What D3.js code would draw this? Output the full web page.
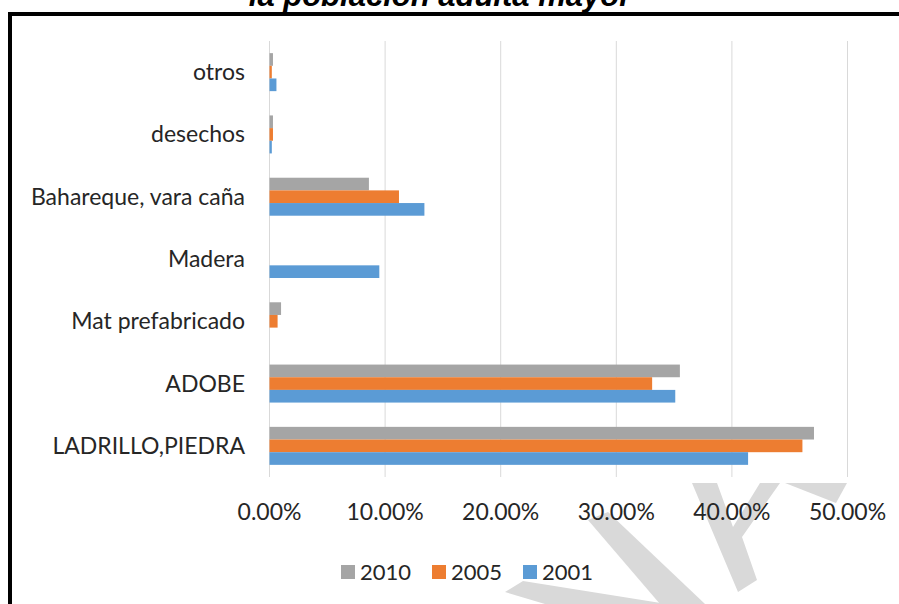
<!DOCTYPE html>
<html>
<head>
<meta charset="utf-8">
<script src="https://cdn.jsdelivr.net/npm/d3@7"></script>
<style>
body { margin: 0; background: #fff; }
text { font-family: Lato, "Open Sans", sans-serif; fill: #262626; }
</style>
</head>
<body>
<div class="mainviz"></div>
<script>
var categories = ["otros", "desechos", "Bahareque, vara caña", "Madera", "Mat prefabricado", "ADOBE", "LADRILLO,PIEDRA"];
var series = ["2010", "2005", "2001"];
var values2010 = [0.003, 0.003, 0.086, 0, 0.010, 0.355, 0.471];
var values2005 = [0.002, 0.003, 0.112, 0, 0.007, 0.331, 0.461];
var values2001 = [0.006, 0.002, 0.134, 0.095, 0, 0.351, 0.414];
var xTicks = [0, 0.1, 0.2, 0.3, 0.4, 0.5];
var colors = { "2010": "#a5a5a5", "2005": "#ed7d31", "2001": "#5b9bd5" };

var width = 899, height = 604;

var svg = d3.select(".mainviz").append("svg")
	.attr("width", width)
	.attr("height", height);

// title, cut off at the top like the source image
svg.append("text")
	.attr("x", 440)
	.attr("y", 6)
	.attr("text-anchor", "middle")
	.style("font-family", "'Liberation Sans', Arial, sans-serif")
	.style("font-weight", "bold")
	.style("font-style", "italic")
	.style("font-size", "31px")
	.style("fill", "#000")
	.text("la población adulta mayor");

// frame
svg.append("path")
	.attr("d", "M10,604 L10,14 L899,14")
	.attr("fill", "none")
	.attr("stroke", "#000")
	.attr("stroke-width", 4);

// watermark pieces below the plot
var marks = [
	[[692,483],[717,483],[733,527],[760,483],[780,483],[742,537],[757,580],[738,592]],
	[[785,483],[847,483],[836,503]],
	[[588,520],[608,512],[705,604],[660,604]],
	[[505,592],[523,581],[667,604],[545,604]]
];
svg.selectAll("polygon.wm")
	.data(marks)
	.enter().append("polygon")
	.attr("class", "wm")
	.attr("points", function(d){ return d.map(function(p){ return p.join(","); }).join(" "); })
	.attr("fill", "#d9d9d9");

var x = d3.scaleLinear()
	.domain([0, 0.5])
	.range([269.5, 847.5]);

var y = d3.scaleBand()
	.domain(categories)
	.range([41, 477])
	.paddingInner(0.39)
	.paddingOuter(0.195);

var ySub = d3.scaleBand()
	.domain(series)
	.range([0, y.bandwidth()]);

var chartGroup = svg.append("g");

// gridlines
chartGroup.selectAll("line.grid")
	.data(xTicks)
	.enter().append("line")
	.attr("class", "grid")
	.attr("x1", function(d){ return x(d); })
	.attr("x2", function(d){ return x(d); })
	.attr("y1", 41)
	.attr("y2", 477)
	.attr("stroke", "#d9d9d9")
	.attr("stroke-width", 1);

var rows = categories.map(function(c, i){
	return [
		{ cat: c, key: "2010", v: values2010[i] },
		{ cat: c, key: "2005", v: values2005[i] },
		{ cat: c, key: "2001", v: values2001[i] }
	];
});

chartGroup.selectAll("g.cat")
	.data(rows)
	.enter().append("g")
	.attr("class", "cat")
	.attr("transform", function(d){ return "translate(0," + y(d[0].cat) + ")"; })
	.selectAll("rect")
	.data(function(d){ return d; })
	.enter().append("rect")
	.attr("x", x(0))
	.attr("y", function(d){ return ySub(d.key); })
	.attr("width", function(d){ return x(d.v) - x(0); })
	.attr("height", ySub.bandwidth())
	.attr("fill", function(d){ return colors[d.key]; });

// category labels
chartGroup.selectAll("text.cat")
	.data(categories)
	.enter().append("text")
	.attr("class", "cat")
	.attr("x", 245)
	.attr("y", function(d){ return y(d) + y.bandwidth() / 2; })
	.attr("dy", "0.35em")
	.attr("text-anchor", "end")
	.style("font-size", "23px")
	.text(function(d){ return d; });

// x tick labels
chartGroup.selectAll("text.tick")
	.data(xTicks)
	.enter().append("text")
	.attr("class", "tick")
	.attr("x", function(d){ return x(d); })
	.attr("y", 520)
	.attr("text-anchor", "middle")
	.style("font-size", "23px")
	.text(function(d){ return d3.format(".2%")(d); });

// legend
var legendX = [341, 432, 523];
var legend = svg.selectAll("g.legend")
	.data(series)
	.enter().append("g")
	.attr("class", "legend")
	.attr("transform", function(d, i){ return "translate(" + legendX[i] + ",565)"; });

legend.append("rect")
	.attr("width", 14)
	.attr("height", 14)
	.attr("fill", function(d){ return colors[d]; });

legend.append("text")
	.attr("x", 19)
	.attr("y", 15)
	.style("font-size", "22px")
	.text(function(d){ return d; });
</script>
</body>
</html>
